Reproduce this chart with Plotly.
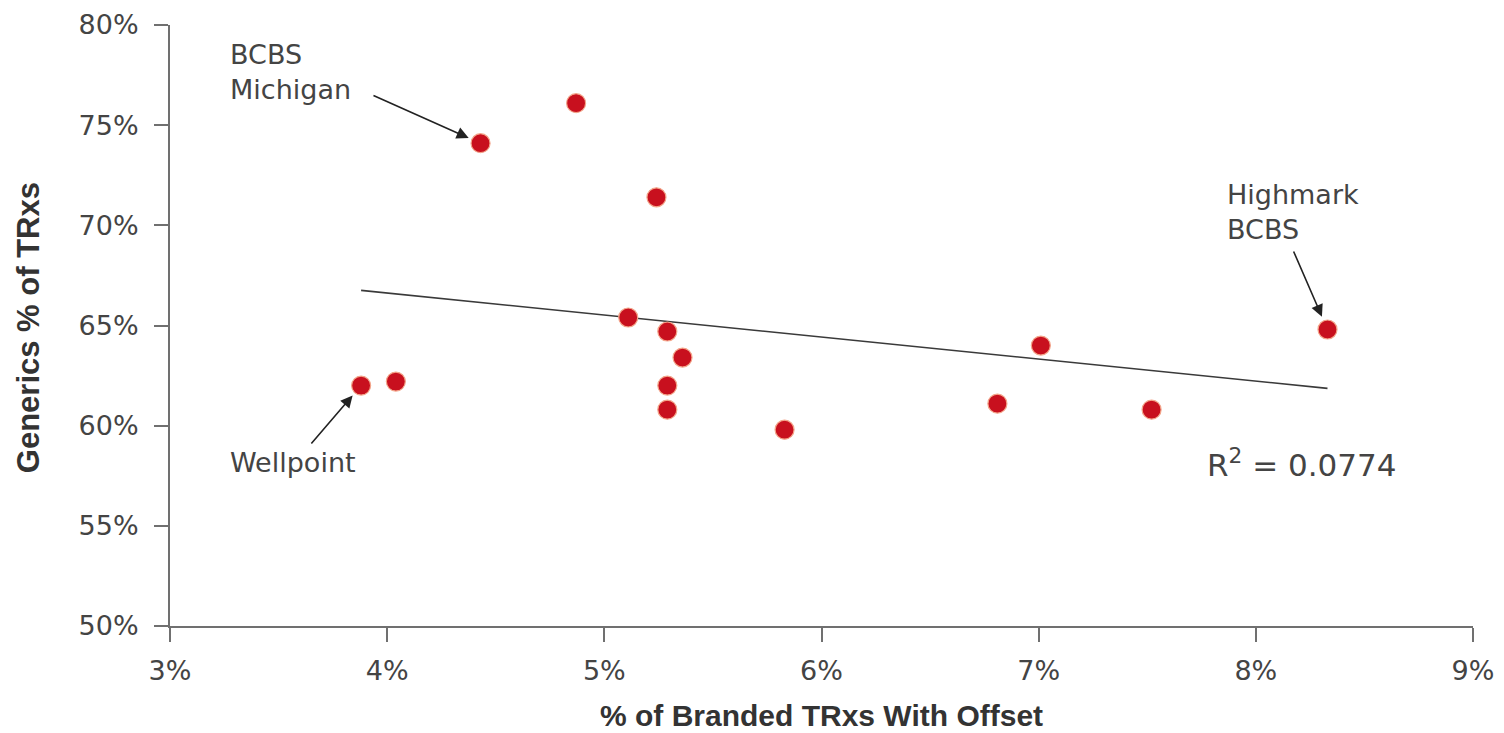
import numpy as np
import plotly.graph_objects as go

# Data (percent units)
branded_offset = [3.88, 4.04, 4.43, 4.87, 5.24, 5.11, 5.29, 5.36, 5.29, 5.29, 5.83, 6.81, 7.01, 7.52, 8.33]
generics_share = [62.0, 62.2, 74.1, 76.1, 71.4, 65.4, 64.7, 63.4, 62.0, 60.8, 59.8, 61.1, 64.0, 60.8, 64.8]
x_ticks = [3, 4, 5, 6, 7, 8, 9]
y_ticks = [50, 55, 60, 65, 70, 75, 80]
r2_label = "R<sup>2</sup> = 0.0774"

# Linear trendline from the data
xa = np.array(branded_offset)
ya = np.array(generics_share)
slope, intercept = np.polyfit(xa, ya, 1)
trend_x = [xa.min(), xa.max()]
trend_y = [slope * v + intercept for v in trend_x]

FONT = "DejaVu Sans, sans-serif"
BOLD = "Liberation Sans, Arial, sans-serif"
RED = "#c8101e"
TXT = "#444444"

fig = go.Figure()
fig.add_trace(go.Scatter(x=trend_x, y=trend_y, mode="lines",
                         line=dict(color="#3a3a3a", width=1.6), hoverinfo="skip",
                         showlegend=False))
fig.add_trace(go.Scatter(x=branded_offset, y=generics_share, mode="markers",
                         marker=dict(color=RED, size=19, line=dict(color="#f3a58a", width=1.2)),
                         showlegend=False))

annos = []
lab = dict(showarrow=False, xanchor="left", yanchor="middle", align="left", xref="x", yref="y")
annos.append(dict(x=3.267, y=77.66, text="BCBS<br>Michigan",
                  font=dict(size=27, color=TXT, family=FONT), **lab))
annos.append(dict(x=3.267, y=58.14, text="Wellpoint",
                  font=dict(size=27, color=TXT, family=FONT), **lab))
annos.append(dict(x=7.857, y=70.67, text="Highmark<br>BCBS",
                  font=dict(size=27, color=TXT, family=FONT), **lab))
annos.append(dict(x=7.767, y=58.14, text=r2_label,
                  font=dict(size=31, color=TXT, family=FONT), **lab))
# Arrows
arrow_style = dict(showarrow=True, arrowhead=2, arrowsize=1.5, arrowwidth=1.6,
                   arrowcolor="#222222", axref="x", ayref="y", xref="x", yref="y", text="")
annos.append(dict(x=branded_offset[2], y=generics_share[2], ax=3.930, ay=76.51,
                  standoff=13, **arrow_style))
annos.append(dict(x=branded_offset[0], y=generics_share[0], ax=3.645, ay=59.04,
                  standoff=13, **arrow_style))
annos.append(dict(x=branded_offset[14], y=generics_share[14], ax=8.171, ay=68.77,
                  standoff=14, **arrow_style))
# Axis titles
annos.append(dict(x=0.5, y=-0.149, xref="paper", yref="paper",
                  text="<b>% of Branded TRxs With Offset</b>",
                  showarrow=False, xanchor="center", yanchor="middle",
                  font=dict(size=30, color="#333333", family=BOLD)))
annos.append(dict(x=-0.108, y=0.496, xref="paper", yref="paper",
                  text="<b>Generics % of TRxs</b>",
                  showarrow=False, xanchor="center", yanchor="middle", textangle=-90,
                  font=dict(size=31, color="#333333", family=BOLD)))

axis_common = dict(showgrid=False, zeroline=False, showline=True, linecolor="#707070",
                   linewidth=2, ticks="outside", ticklen=14, tickwidth=2, tickcolor="#707070",
                   tickfont=dict(size=27, color=TXT, family=FONT), fixedrange=True,
                   automargin=False)

fig.update_layout(
    width=1488, height=725,
    margin=dict(l=162, r=23, t=17, b=107),
    paper_bgcolor="white", plot_bgcolor="white",
    font=dict(family=FONT, size=27, color=TXT),
    annotations=annos,
    xaxis=dict(range=[3, 9], tickvals=x_ticks, ticktext=[f"{v}%" for v in x_ticks],
               ticklabelstandoff=6, **axis_common),
    yaxis=dict(range=[50, 80], tickvals=y_ticks, ticktext=[f"{v}%" for v in y_ticks],
               ticklabelstandoff=10, **axis_common),
)

fig.write_html("out.html")
